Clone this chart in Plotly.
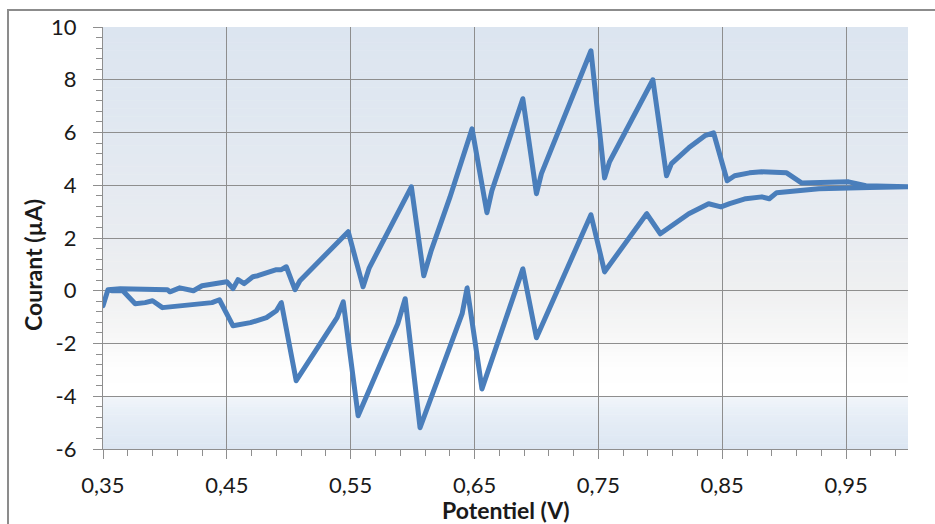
import plotly.graph_objects as go

# ---- data ----
forward_potential = [0.350, 0.354, 0.364, 0.374, 0.388, 0.402, 0.404, 0.412, 0.423, 0.430,
                     0.450, 0.455, 0.459, 0.464, 0.471, 0.475, 0.490, 0.494, 0.498, 0.505,
                     0.509, 0.548, 0.560, 0.565, 0.599, 0.609, 0.615, 0.630, 0.648, 0.660,
                     0.664, 0.689, 0.700, 0.704, 0.744, 0.755, 0.759, 0.794, 0.805, 0.809,
                     0.823, 0.836, 0.843, 0.854, 0.860, 0.872, 0.882, 0.902, 0.914, 0.926,
                     0.952, 0.966, 1.000]
forward_current = [-0.57, 0.04, 0.08, 0.08, 0.04, 0.04, -0.04, 0.11, 0.00, 0.19,
                   0.34, 0.08, 0.42, 0.27, 0.53, 0.57, 0.80, 0.80, 0.91, 0.04,
                   0.38, 2.24, 0.15, 0.87, 3.94, 0.57, 1.52, 3.53, 6.14, 2.96,
                   3.79, 7.28, 3.68, 4.44, 9.10, 4.28, 4.89, 8.00, 4.36, 4.82,
                   5.42, 5.88, 5.99, 4.17, 4.36, 4.47, 4.51, 4.47, 4.09, 4.09,
                   4.13, 3.98, 3.94]

reverse_potential = [0.969, 0.944, 0.928, 0.894, 0.888, 0.882, 0.869, 0.856, 0.849, 0.839,
                     0.823, 0.800, 0.789, 0.755, 0.744, 0.700, 0.689, 0.656, 0.644, 0.640,
                     0.614, 0.606, 0.594, 0.588, 0.556, 0.544, 0.539, 0.506, 0.494, 0.490,
                     0.482, 0.469, 0.455, 0.444, 0.438, 0.420, 0.398, 0.390, 0.384, 0.376,
                     0.366, 0.357]
reverse_current = [3.91, 3.91, 3.87, 3.72, 3.49, 3.56, 3.49, 3.30, 3.18, 3.30,
                   2.92, 2.16, 2.92, 0.72, 2.88, -1.78, 0.83, -3.72, 0.11, -0.87,
                   -4.09, -5.19, -0.30, -1.25, -4.74, -0.42, -1.02, -3.41, -0.45, -0.76,
                   -1.02, -1.21, -1.33, -0.34, -0.45, -0.53, -0.64, -0.38, -0.45, -0.49,
                   0.00, 0.00]

x_tick_values = [0.35, 0.45, 0.55, 0.65, 0.75, 0.85, 0.95]
x_tick_labels = ["0,35", "0,45", "0,55", "0,65", "0,75", "0,85", "0,95"]
y_tick_values = [-6, -4, -2, 0, 2, 4, 6, 8, 10]
y_tick_labels = ["-6", "-4", "-2", "0", "2", "4", "6", "8", "10"]

x_title = "Potentiel (V)"
y_title = "Courant (µA)"

# ---- styles ----
LINE_COLOR = "#4A7EBB"
GRID_COLOR = "#8E8E8E"
FONT = "Lato, 'Open Sans', 'Liberation Sans', sans-serif"

potential = forward_potential + reverse_potential
current = forward_current + reverse_current

fig = go.Figure()
fig.add_trace(go.Scatter(
    x=potential, y=current, mode="lines",
    line=dict(color=LINE_COLOR, width=5),
    showlegend=False, hoverinfo="x+y",
))

# gradient background of the plot area (bands)
stops = [(-6.0, (220, 230, 242)), (-4.6, (232, 239, 247)), (-4.05, (241, 245, 250)),
         (-3.95, (255, 255, 255)), (-3.0, (254, 254, 254)), (-1.5, (246, 246, 246)),
         (0.0, (239, 240, 241)), (2.0, (233, 236, 241)), (6.0, (225, 232, 241)),
         (10.0, (220, 229, 240))]


def colour_at(v):
    for (a, ca), (b, cb) in zip(stops[:-1], stops[1:]):
        if a <= v <= b:
            t = (v - a) / (b - a) if b > a else 0
            c = [round(ca[i] + (cb[i] - ca[i]) * t) for i in range(3)]
            return "rgb(%d,%d,%d)" % tuple(c)
    return "rgb(255,255,255)"


shapes = []
n_bands = 160
for k in range(n_bands):
    y0 = -6 + 16 * k / n_bands
    y1 = -6 + 16 * (k + 1) / n_bands
    shapes.append(dict(type="rect", xref="x domain", yref="y", x0=0, x1=1,
                       y0=y0, y1=min(y1 + 0.02, 10), line=dict(width=0),
                       fillcolor=colour_at((y0 + y1) / 2), layer="below"))
# outer chart frame
shapes.append(dict(type="rect", xref="paper", yref="paper",
                   x0=-0.118, x1=1.2, y0=-0.4, y1=1.04,
                   line=dict(color="#8C8C8C", width=2), fillcolor="rgba(0,0,0,0)",
                   layer="below"))

fig.update_layout(
    width=935, height=524,
    margin=dict(l=103, r=27, t=27, b=75, autoexpand=False),
    paper_bgcolor="white",
    plot_bgcolor="rgba(0,0,0,0)",
    font=dict(family=FONT, size=22, color="#1a1a1a"),
    shapes=shapes,
    showlegend=False,
    annotations=[
        dict(text="<b>" + x_title + "</b>", xref="paper", yref="paper",
             x=0.5, y=-0.145, xanchor="center", yanchor="middle",
             showarrow=False, font=dict(size=23)),
        dict(text="<b>" + y_title + "</b>", xref="paper", yref="paper",
             x=-0.087, y=0.436, xanchor="center", yanchor="middle",
             textangle=-90, showarrow=False, font=dict(size=23)),
    ],
)

fig.update_xaxes(
    range=[0.35, 1.0], tickvals=x_tick_values, ticktext=x_tick_labels,
    showgrid=True, gridcolor=GRID_COLOR, gridwidth=1.3,
    showline=True, linecolor=GRID_COLOR, linewidth=1.3,
    ticks="outside", ticklen=9, tickcolor=GRID_COLOR, tickwidth=1.3,
    minor=dict(dtick=0.02, tick0=0.35, ticks="outside", ticklen=6,
               tickcolor=GRID_COLOR, tickwidth=1.3, showgrid=False),
    ticklabelstandoff=7,
    zeroline=False, automargin=False,
)
fig.update_yaxes(
    range=[-6, 10], tickvals=y_tick_values, ticktext=y_tick_labels,
    showgrid=True, gridcolor=GRID_COLOR, gridwidth=1.3,
    showline=True, linecolor=GRID_COLOR, linewidth=1.3,
    ticks="outside", ticklen=9, tickcolor=GRID_COLOR, tickwidth=1.3,
    minor=dict(dtick=0.4, tick0=-6, ticks="outside", ticklen=6,
               tickcolor=GRID_COLOR, tickwidth=1.3, showgrid=False),
    ticklabelstandoff=12,
    zeroline=False, automargin=False,
)

post = (
    "document.body.style.margin='0';"
    "document.body.style.overflow='hidden';"
    "var s=document.createElement('style');"
    "s.textContent='path.js-line{stroke-linejoin:round !important;stroke-linecap:round !important;}';"
    "document.head.appendChild(s);"
)
fig.write_html("out.html", config={"displayModeBar": False}, post_script=post)
